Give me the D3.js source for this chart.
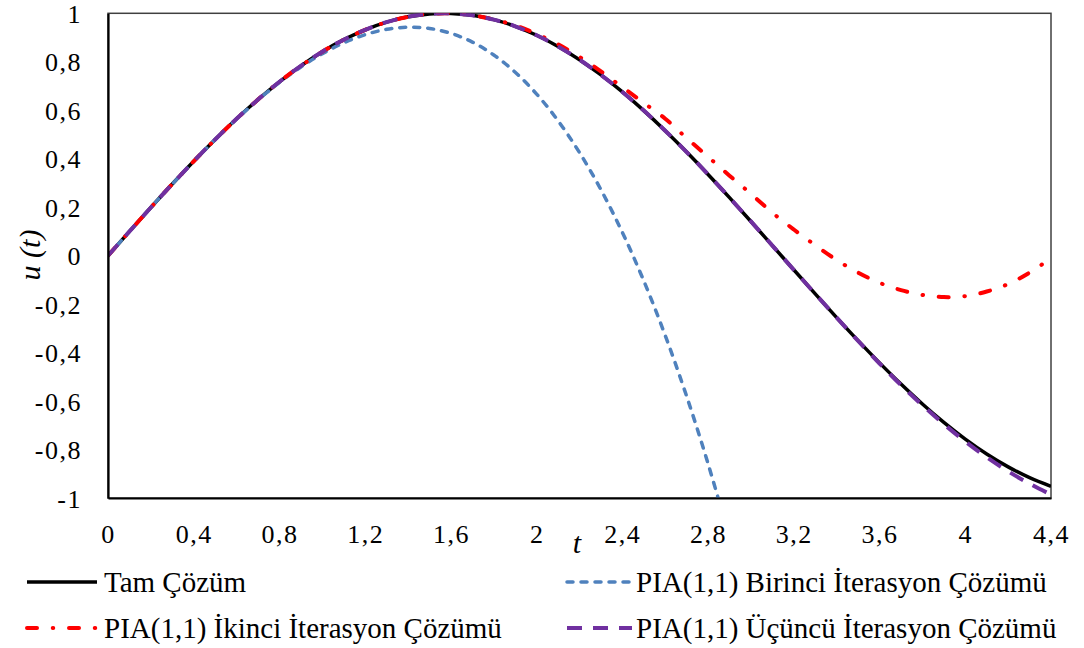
<!DOCTYPE html>
<html><head><meta charset="utf-8">
<script src="https://cdn.jsdelivr.net/npm/d3@7/dist/d3.min.js"></script>
<style>body{margin:0;background:#fff;}svg{display:block;}</style>
</head><body><svg id="c" width="1084" height="648"></svg>
<script>
const tValues = [0,0.1,0.2,0.3,0.4,0.5,0.6,0.7,0.8,0.9,1.0,1.1,1.2,1.3,1.4,1.5,1.6,1.7,1.8,1.9,2.0,2.1,2.2,2.3,2.4,2.5,2.6,2.7,2.8,2.9,3.0,3.1,3.2,3.3,3.4,3.5,3.6,3.7,3.8,3.9,4.0,4.1,4.2,4.3,4.4];
const tamCozum = [0,0.0998,0.1987,0.2955,0.3894,0.4794,0.5646,0.6442,0.7174,0.7833,0.8415,0.8912,0.9320,0.9636,0.9854,0.9975,0.9996,0.9917,0.9738,0.9463,0.9093,0.8632,0.8085,0.7457,0.6755,0.5985,0.5155,0.4274,0.3350,0.2392,0.1411,0.0416,-0.0584,-0.1577,-0.2555,-0.3508,-0.4425,-0.5298,-0.6119,-0.6878,-0.7568,-0.8183,-0.8716,-0.9162,-0.9516];
const birinci = [0,0.0998,0.1987,0.2955,0.3893,0.4792,0.5640,0.6428,0.7147,0.7785,0.8333,0.8782,0.9120,0.9338,0.9427,0.9375,0.9173,0.8812,0.8280,0.7568,0.6667,0.5565,0.4253,0.2722,0.0960,-0.1042,-0.3293,-0.5805,-0.8587,-1.1648];
const ikinci = [0,0.0998,0.1987,0.2955,0.3894,0.4794,0.5646,0.6442,0.7174,0.7833,0.8415,0.8912,0.9320,0.9636,0.9854,0.9975,0.9996,0.9920,0.9750,0.9500,0.9150,0.8720,0.8200,0.7600,0.6950,0.6300,0.5650,0.4850,0.4080,0.3300,0.2550,0.1770,0.1080,0.0430,-0.0180,-0.0700,-0.1120,-0.1420,-0.1620,-0.1710,-0.1670,-0.1480,-0.1170,-0.0700,-0.0100];
const ucuncu = [0,0.0998,0.1987,0.2955,0.3894,0.4794,0.5646,0.6442,0.7174,0.7833,0.8415,0.8912,0.9320,0.9636,0.9854,0.9975,0.9996,0.9917,0.9738,0.9463,0.9093,0.8632,0.8085,0.7457,0.6755,0.5985,0.5155,0.4274,0.3350,0.2392,0.1411,0.0416,-0.0584,-0.1577,-0.2555,-0.3520,-0.4450,-0.5340,-0.6170,-0.6950,-0.7670,-0.8320,-0.8900,-0.9410,-0.9860];
const xTicks = [0,0.4,0.8,1.2,1.6,2,2.4,2.8,3.2,3.6,4,4.4];
const yTicks = [-1,-0.8,-0.6,-0.4,-0.2,0,0.2,0.4,0.6,0.8,1];
const seriesNames = ["Tam Çözüm","PIA(1,1) Birinci İterasyon Çözümü","PIA(1,1) İkinci İterasyon Çözümü","PIA(1,1) Üçüncü İterasyon Çözümü"];

const svg = d3.select("#c");
const L=108,R=1051,T=13.3,B=498;
const x = d3.scaleLinear().domain([0,4.4]).range([L,R]);
const y = d3.scaleLinear().domain([-1,1]).range([B,T]);
const fmt = v => String(+v.toFixed(1)).replace(".",",");
const serif = "'Liberation Serif', 'Times New Roman', serif";

svg.append("defs").append("clipPath").attr("id","clip")
  .append("rect").attr("x",L).attr("y",T).attr("width",R-L).attr("height",B-T);

// frame
svg.append("rect").attr("x",L).attr("y",T).attr("width",R-L).attr("height",B-T)
  .attr("fill","none").attr("stroke","#404040").attr("stroke-width",1.5);

const styles = [
  {data:tamCozum, color:"#000000", w:3.5, dash:null, cap:"butt"},
  {data:birinci, color:"#4f81bd", w:3.5, dash:"6,8", cap:"round"},
  {data:ikinci, color:"#ff0000", w:4, dash:"10,15.75,0.5,15.75", cap:"round"},
  {data:ucuncu, color:"#7030a0", w:4, dash:"15,11", cap:"butt"}
];
const g = svg.append("g").attr("clip-path","url(#clip)");
const line = d3.line().x(d=>x(d[0])).y(d=>y(d[1])).curve(d3.curveCatmullRom.alpha(0.5));
[0,1,2,3].forEach(i=>{
  const s=styles[i];
  const pts = s.data.map((v,k)=>[tValues[k],v]);
  g.append("path").attr("d",line(pts)).attr("fill","none").attr("stroke",s.color)
   .attr("stroke-width",s.w).attr("stroke-dasharray",s.dash).attr("stroke-linecap",s.cap);
});

// axes lines
const xAxis = d3.axisBottom(x).tickValues(xTicks).tickFormat(fmt).tickSize(0).tickPadding(25);
const ya = d3.axisLeft(y).tickValues(yTicks).tickFormat(fmt).tickSize(0).tickPadding(26);
const gx = svg.append("g").attr("transform",`translate(0,${B})`).call(xAxis);
const gy = svg.append("g").attr("transform",`translate(${L},0)`).call(ya);
[gx,gy].forEach(a=>{
  a.select(".domain").attr("stroke","#000").attr("stroke-width",2.2);
  a.selectAll("text").attr("font-family",serif).attr("font-size",26).attr("fill","#000").attr("letter-spacing",1.5);
});
gx.selectAll("text").attr("dy","0.75em");
gy.selectAll("text").attr("dy","0.35em");

// axis titles
svg.append("text").attr("x",577).attr("y",553).attr("text-anchor","middle")
  .attr("font-family",serif).attr("font-style","italic").attr("font-size",30).text("t");
svg.append("text").attr("transform","translate(40,255) rotate(-90)").attr("text-anchor","middle")
  .attr("font-family",serif).attr("font-style","italic").attr("font-size",30).text("u (t)");

// legend
const leg = [
  {i:0, x1:27, x2:97, tx:104, y:582},
  {i:1, x1:567, x2:632, tx:636, y:582},
  {i:2, x1:27, x2:97, tx:104, y:628},
  {i:3, x1:567, x2:632, tx:636, y:628}
];
leg.forEach(l=>{
  const s=styles[l.i];
  svg.append("line").attr("x1",l.x1).attr("x2",l.x2).attr("y1",l.y).attr("y2",l.y)
    .attr("stroke",s.color).attr("stroke-width",s.w).attr("stroke-dasharray",s.dash).attr("stroke-linecap",s.cap);
  svg.append("text").attr("x",l.tx).attr("y",l.y).attr("dy","0.35em")
    .attr("font-family",serif).attr("font-size",29).text(seriesNames[l.i]);
});
</script></body></html>
